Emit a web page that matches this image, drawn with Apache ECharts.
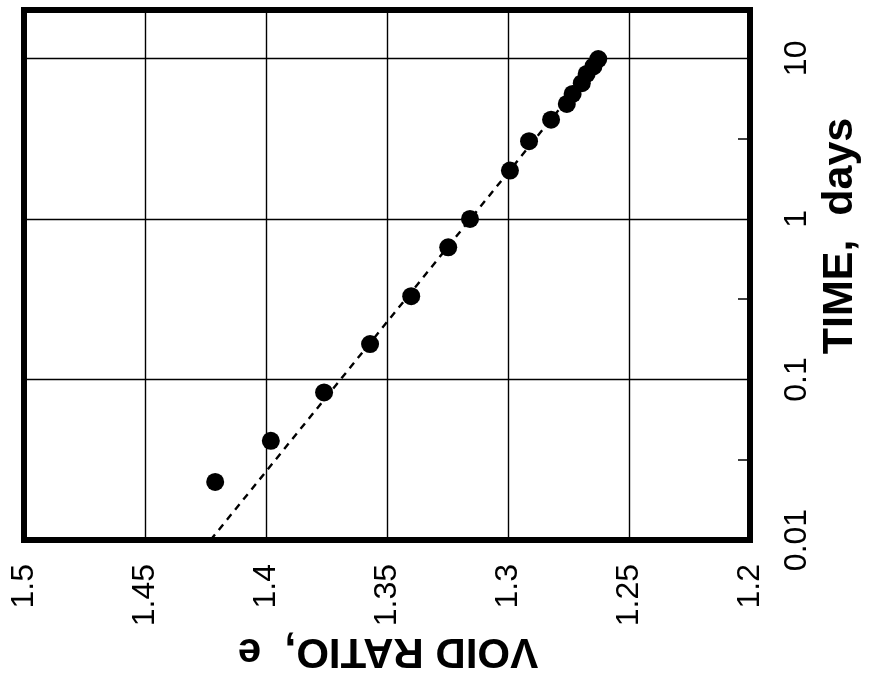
<!DOCTYPE html>
<html>
<head>
<meta charset="utf-8">
<script src="https://cdn.jsdelivr.net/npm/echarts@6/dist/echarts.min.js"></script>
<style>
html,body{margin:0;padding:0;background:#fff;}
#chart{width:880px;height:689px;}
</style>
</head>
<body>
<div id="chart"></div>
<script>
// Measured data: void ratio e vs. time (days)
var voidRatio = [1.421, 1.398, 1.376, 1.357, 1.340, 1.3247, 1.3157, 1.2992, 1.2913, 1.2822, 1.2757, 1.2733, 1.2695, 1.2675, 1.2647, 1.2627];
var timeDays  = [0.023, 0.0415, 0.083, 0.166, 0.33, 0.665, 1.0, 2.0, 3.05, 4.15, 5.2, 6.0, 7.0, 8.0, 8.9, 9.9];
// Dashed trend line end points
var trendVoid = [1.4229, 1.2618];
var trendTime = [0.01, 10];
// Axis settings / tick labels
var voidTicks = ['1.5', '1.45', '1.4', '1.35', '1.3', '1.25', '1.2'];
var timeTicks = ['0.01', '0.1', '1', '10'];
var timeMinorTicks = [0.0316, 0.316, 3.16];

var pts = voidRatio.map(function (e, i) { return [e, timeDays[i]]; });
var trend = trendVoid.map(function (e, i) { return [e, trendTime[i]]; });

var chart = echarts.init(document.getElementById('chart'));
var labelFont = 'Liberation Sans';
chart.setOption({
  animation: false,
  backgroundColor: '#fff',
  grid: {
    left: 24, right: 130, top: 10, bottom: 149,
    show: true, borderColor: '#000', borderWidth: 6, backgroundColor: 'transparent'
  },
  xAxis: {
    type: 'value', min: 1.2, max: 1.5, interval: 0.05, inverse: true,
    axisLine: { show: false },
    axisTick: { show: false },
    splitLine: { show: true, lineStyle: { color: '#000', width: 1.4 } },
    axisLabel: {
      rotate: 90, margin: 24, color: '#000', fontSize: 32, fontFamily: labelFont,
      formatter: function (v) { return String(parseFloat(v.toFixed(2))); }
    }
  },
  yAxis: [{
    type: 'log', logBase: 10, min: 0.01, max: 20, position: 'right',
    axisLine: { show: false },
    axisTick: { show: false },
    splitLine: { show: true, lineStyle: { color: '#000', width: 1.4 } },
    axisLabel: {
      rotate: 90, margin: 31, color: '#000', fontSize: 32, fontFamily: labelFont,
      formatter: function (v) {
        var s = String(parseFloat(Number(v).toPrecision(3)));
        return timeTicks.indexOf(s) >= 0 ? s : '';
      }
    }
  }, {
    type: 'log', logBase: 10, min: 0.01, max: 20, position: 'right',
    axisLine: { show: false },
    splitLine: { show: false },
    axisLabel: { show: false },
    axisTick: { show: true, inside: true, length: 12, customValues: timeMinorTicks,
      lineStyle: { color: '#000', width: 1.5 } }
  }],
  graphic: [{
    type: 'text', x: 388, y: 651, rotation: Math.PI,
    style: { text: 'VOID RATIO,  e', font: 'bold 42px "Liberation Sans"', fill: '#000',
      textAlign: 'center', textVerticalAlign: 'middle' }
  }, {
    type: 'text', x: 840, y: 236, rotation: Math.PI / 2,
    style: { text: 'TIME,  days', font: 'bold 43px "Liberation Sans"', fill: '#000',
      textAlign: 'center', textVerticalAlign: 'middle' }
  }],
  series: [{
    type: 'line', data: trend, yAxisIndex: 0, symbol: 'none', silent: true,
    lineStyle: { color: '#000', width: 2.4, type: [7, 6] }, z: 2
  }, {
    type: 'scatter', data: pts, yAxisIndex: 0, symbol: 'circle', symbolSize: 18,
    itemStyle: { color: '#000', opacity: 1 }, z: 3
  }]
});
</script>
</body>
</html>
